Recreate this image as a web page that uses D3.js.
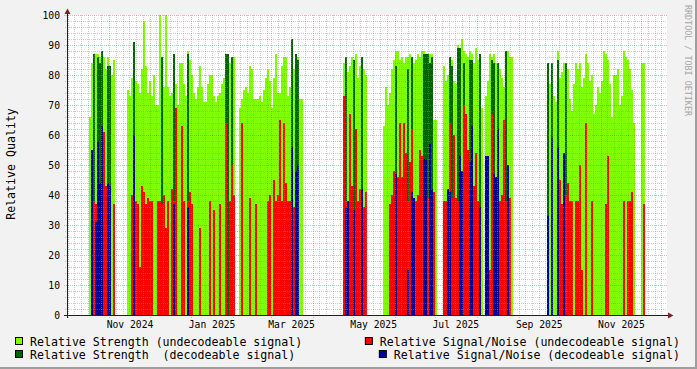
<!DOCTYPE html>
<html>
<head>
<meta charset="utf-8">
<script src="https://cdn.jsdelivr.net/npm/d3@7"></script>
<style>
html, body { margin: 0; padding: 0; background: #f2f2f2; }
svg { display: block; }
text { font-family: "DejaVu Sans Mono", monospace; white-space: pre; }
</style>
</head>
<body>
<div id="chart"></div>
<script>
const width = 697, height = 369;

// time covered by the graph, split into 300 equal consolidation steps
const startTime = Date.UTC(2024, 8, 30, 14);
const endTime = Date.UTC(2025, 11, 20, 6);
const stepCount = 300;

// one value per step, 0 = no data
const strengthUndecodable = [
  0,0,0,0,0,0,0,0,0,0,0,66,84,87,87,87,86,86,86,82,
  86,83,80,85,0,0,0,0,0,0,75,73,79,81,78,77,74,82,98,83,
  74,78,73,80,70,70,100,76,76,100,76,73,74,87,77,70,84,84,77,73,
  88,85,80,74,72,76,83,76,71,71,77,80,80,73,71,73,74,77,79,84,
  84,84,86,86,0,0,69,72,75,76,74,83,82,72,72,72,73,71,75,79,
  82,78,69,79,87,74,74,83,86,86,73,76,79,82,87,86,72,72,0,0,
  0,0,0,0,0,0,0,0,0,0,0,0,0,0,0,0,0,0,84,86,
  81,83,86,85,87,79,83,86,82,80,0,0,0,0,0,0,0,0,63,76,
  70,74,82,85,88,88,85,86,84,86,86,87,86,84,85,87,86,88,88,87,
  87,87,87,65,65,0,0,0,83,78,80,86,85,78,77,90,87,92,88,87,
  86,88,87,84,89,85,87,69,0,73,78,87,86,87,84,84,82,79,76,82,
  88,86,86,0,0,0,0,0,0,0,0,0,0,0,0,0,0,0,0,0,
  79,77,79,73,71,88,79,81,84,84,82,72,68,77,84,82,84,76,79,87,
  84,78,80,67,70,76,74,78,88,87,85,77,66,80,80,82,70,73,88,86,
  85,82,75,64,0,0,0,84,84,0,0,0,0,0,0,0,0,0,0,0
];
const strengthDecodable = [
  0,0,0,0,0,0,0,0,0,0,0,0,0,87,0,86,84,88,0,0,
  83,83,0,0,0,0,0,0,0,0,0,0,0,91,0,0,0,0,0,0,
  0,0,0,0,0,0,0,86,0,0,0,0,0,87,0,0,0,0,0,0,
  87,0,0,0,0,0,0,0,0,0,0,0,0,0,0,0,0,0,0,87,
  87,0,86,0,0,0,0,0,0,0,0,0,0,0,0,0,0,0,0,0,
  0,0,0,0,0,0,0,0,0,0,0,0,92,0,87,85,0,0,0,0,
  0,0,0,0,0,0,0,0,0,0,0,0,0,0,0,0,0,0,0,86,
  0,0,0,85,0,0,0,86,0,0,0,0,0,0,0,0,0,0,0,0,
  0,0,0,0,83,0,0,0,0,0,82,0,86,0,0,0,0,0,87,87,
  87,84,86,0,0,0,0,0,0,0,0,86,83,0,0,89,89,0,84,0,
  0,85,85,0,0,0,87,0,0,0,0,0,85,84,0,84,0,0,0,88,
  0,0,0,0,0,0,0,0,0,0,0,0,0,0,0,0,0,0,0,0,
  84,0,84,0,0,85,0,0,0,84,0,0,0,0,0,0,0,0,0,0,
  0,0,0,0,0,0,0,0,0,0,0,0,0,0,0,0,0,0,0,0,
  0,0,0,0,0,0,0,0,0,0,0,0,0,0,0,0,0,0,0,0
];
const snrUndecodable = [
  0,0,0,0,0,0,0,0,0,0,0,0,40,38,37,37,0,0,61,43,
  43,43,0,37,0,0,0,0,0,0,0,0,40,38,38,37,16,43,41,37,
  39,38,38,0,0,38,38,37,40,29,38,0,42,38,69,0,0,63,38,0,
  38,41,37,0,0,0,29,0,0,0,0,38,0,35,0,0,37,0,0,64,
  0,38,50,40,0,0,0,64,0,0,0,39,0,0,37,0,0,0,0,0,
  38,40,0,45,38,40,65,38,64,44,38,38,0,36,0,50,0,0,0,0,
  0,0,0,0,0,0,0,0,0,0,0,0,0,0,0,0,0,0,73,38,
  0,67,43,0,62,38,42,0,36,41,0,0,0,0,0,0,0,0,0,0,
  0,37,40,48,0,46,64,46,64,54,38,51,62,38,38,40,55,53,0,0,
  39,40,0,41,0,0,0,0,38,38,0,64,39,60,39,38,38,0,70,67,
  55,0,0,43,54,38,0,0,0,0,36,15,67,0,0,0,38,40,65,38,
  46,39,0,0,0,0,0,0,0,0,0,0,0,0,0,0,0,0,0,0,
  0,0,0,0,0,0,45,37,0,40,44,38,38,0,38,38,50,15,0,64,
  0,0,38,0,0,0,0,0,0,37,53,0,0,0,0,0,0,0,38,0,
  38,38,41,0,0,0,0,0,37,0,0,0,0,0,0,0,0,0,0,0
];
const snrDecodable = [
  0,0,0,0,0,0,0,0,0,0,0,0,55,0,31,58,44,63,0,0,
  44,43,0,0,0,0,0,0,0,0,0,0,0,60,0,0,0,0,0,0,
  0,0,0,0,0,0,0,0,0,0,0,0,0,37,0,0,0,0,0,0,
  36,0,0,0,0,0,0,0,0,0,0,0,0,0,0,0,0,0,0,0,
  0,0,0,0,0,0,0,0,0,0,0,0,0,0,0,0,0,0,0,0,
  0,0,0,0,0,0,0,0,0,0,0,0,56,0,48,50,0,0,0,0,
  0,0,0,0,0,0,0,0,0,0,0,0,0,0,0,0,0,0,0,36,
  38,0,0,35,0,0,0,42,0,0,0,0,0,0,0,0,0,0,0,0,
  0,0,0,0,47,0,0,0,0,0,15,0,41,39,0,0,0,0,52,52,
  0,57,42,0,0,0,0,0,0,0,42,41,0,0,0,0,53,48,0,0,
  0,51,63,0,0,0,36,0,0,53,53,0,0,47,46,62,0,0,0,0,
  50,0,0,0,0,0,0,0,0,0,0,0,0,0,0,0,0,0,0,0,
  33,0,59,0,0,56,0,0,54,0,0,0,0,0,0,0,0,0,0,0,
  0,0,0,0,0,0,0,0,0,0,0,0,0,0,0,0,0,0,0,0,
  0,0,0,0,0,0,0,0,0,0,0,0,0,0,0,0,0,0,0,0
];

const yTicks = [0, 10, 20, 30, 40, 50, 60, 70, 80, 90, 100];
const legendLabels = [
  "Relative Strength (undecodeable signal)",
  "Relative Signal/Noise (undecodeable signal)",
  "Relative Strength  (decodeable signal)",
  "Relative Signal/Noise (decodeable signal)"
];

const COL_LIGHT = "#7fff00", COL_DARK = "#006400", COL_RED = "#ff0000", COL_BLUE = "#000096";
const GRID = "rgba(143,143,143,0.45)", MGRID = "rgba(222,79,79,0.45)";

const svg = d3.select("#chart").append("svg").attr("width", width).attr("height", height);

svg.append("rect").attr("width", width).attr("height", height).attr("fill", "#f2f2f2");
svg.append("path").attr("d", `M${width - 1},0V${height - 1}H0`).attr("stroke", "#9e9e9e").attr("stroke-width", 2).attr("fill", "none");

let x = d3.scaleUtc().domain([new Date(startTime), new Date(endTime)]).range([67, 667]);
let y = d3.scaleLinear().domain([0, 100]).range([315, 15]);
const stepMs = (endTime - startTime) / stepCount;
const stepTime = i => new Date(startTime + i * stepMs);

svg.append("rect").attr("x", 67).attr("y", 15).attr("width", 600).attr("height", 300).attr("fill", "#fff");

// areas, in rrdtool drawing order
[[strengthUndecodable, COL_LIGHT], [strengthDecodable, COL_DARK], [snrUndecodable, COL_RED], [snrDecodable, COL_BLUE]]
  .forEach(([values, color]) => {
    svg.append("g").attr("shape-rendering", "crispEdges")
      .selectAll("rect")
      .data(values.map((v, i) => ({ v, i })).filter(d => d.v > 0))
      .join("rect")
      .attr("x", d => x(stepTime(d.i)))
      .attr("width", d => x(stepTime(d.i + 1)) - x(stepTime(d.i)))
      .attr("y", d => y(d.v))
      .attr("height", d => y(0) - y(d.v))
      .attr("fill", color);
  });

// grid on top of the data
let grid = svg.append("g").attr("shape-rendering", "crispEdges").attr("stroke-dasharray", "1,1");
let minorDays = d3.utcDay.every(5).range(new Date(startTime), new Date(endTime))
  .filter(d => d.getUTCDate() != 1 && d.getUTCDate() != 31);
let months = d3.utcMonth.range(new Date(startTime), new Date(endTime));

grid.selectAll(".vmin").data(minorDays).join("line")
  .attr("x1", d => Math.round(x(d)) + 0.5).attr("x2", d => Math.round(x(d)) + 0.5)
  .attr("y1", 15).attr("y2", 317).attr("stroke", GRID);
grid.selectAll(".hmin").data(d3.range(2, 100, 2).filter(v => v % 10 != 0)).join("line")
  .attr("x1", 65).attr("x2", 667).attr("y1", d => y(d) + 0.5).attr("y2", d => y(d) + 0.5).attr("stroke", GRID);
grid.selectAll(".vmaj").data(months).join("line")
  .attr("x1", d => Math.round(x(d)) + 0.5).attr("x2", d => Math.round(x(d)) + 0.5)
  .attr("y1", 15).attr("y2", 318).attr("stroke", MGRID);
grid.selectAll(".hmaj").data(yTicks.slice(1)).join("line")
  .attr("x1", 64).attr("x2", 667).attr("y1", d => y(d) + 0.5).attr("y2", d => y(d) + 0.5).attr("stroke", MGRID);

// axes
svg.append("line").attr("x1", 64).attr("x2", 670).attr("y1", 315.5).attr("y2", 315.5).attr("stroke", "#1f1f1f");
svg.append("line").attr("x1", 67.5).attr("x2", 67.5).attr("y1", 318).attr("y2", 12).attr("stroke", "#1f1f1f");
svg.append("path").attr("d", "M673.5,315.5L668,312.5L668,318.5Z").attr("fill", "#802020");
svg.append("path").attr("d", "M67.5,8.5L64.5,14L70.5,14Z").attr("fill", "#802020");

let yAxis = svg.append("g").attr("transform", "translate(67,0)")
  .call(d3.axisLeft(y).tickValues(yTicks).tickSize(0).tickPadding(7));
yAxis.select(".domain").remove();
yAxis.selectAll("text").attr("font-family", "DejaVu Sans Mono").attr("font-size", "9.7px").attr("fill", "#000");

let labelDates = d3.utcMonth.every(2).range(new Date(startTime), new Date(endTime)).map(d => d3.utcDay.offset(d, 15));
let xAxis = svg.append("g").attr("transform", "translate(0,315)")
  .call(d3.axisBottom(x).tickValues(labelDates).tickFormat(d3.utcFormat("%b %Y")).tickSize(0).tickPadding(6.6));
xAxis.select(".domain").remove();
xAxis.selectAll("text").attr("font-family", "DejaVu Sans Mono").attr("font-size", "9.7px").attr("fill", "#000");

svg.append("text").attr("transform", "translate(15,164) rotate(-90)")
  .attr("text-anchor", "middle").attr("font-size", "11.6px").attr("fill", "#000")
  .text("Relative Quality");

svg.append("text").attr("transform", "translate(685,5) rotate(90)")
  .attr("font-size", "9.2px").attr("fill", "#a6a6a6")
  .attr("textLength", 111).attr("lengthAdjust", "spacingAndGlyphs")
  .text("RRDTOOL / TOBI OETIKER");

// legend: left column at the left margin, right column flush right
const legendColors = [COL_LIGHT, COL_RED, COL_DARK, COL_BLUE];
legendLabels.forEach((label, i) => {
  let row = Math.floor(i / 2), right = i % 2 == 1;
  let base = 345.5 + row * 13;
  let t = svg.append("text").attr("y", base).attr("font-size", "11.6px").attr("fill", "#000").text(label);
  let tx = right ? 680 - t.node().getComputedTextLength() : 30;
  t.attr("x", tx);
  svg.append("rect").attr("x", tx - 14.5).attr("y", base - 8).attr("width", 7).attr("height", 7)
    .attr("fill", legendColors[i]).attr("stroke", "#000").attr("stroke-width", 1);
});
</script>
</body>
</html>
